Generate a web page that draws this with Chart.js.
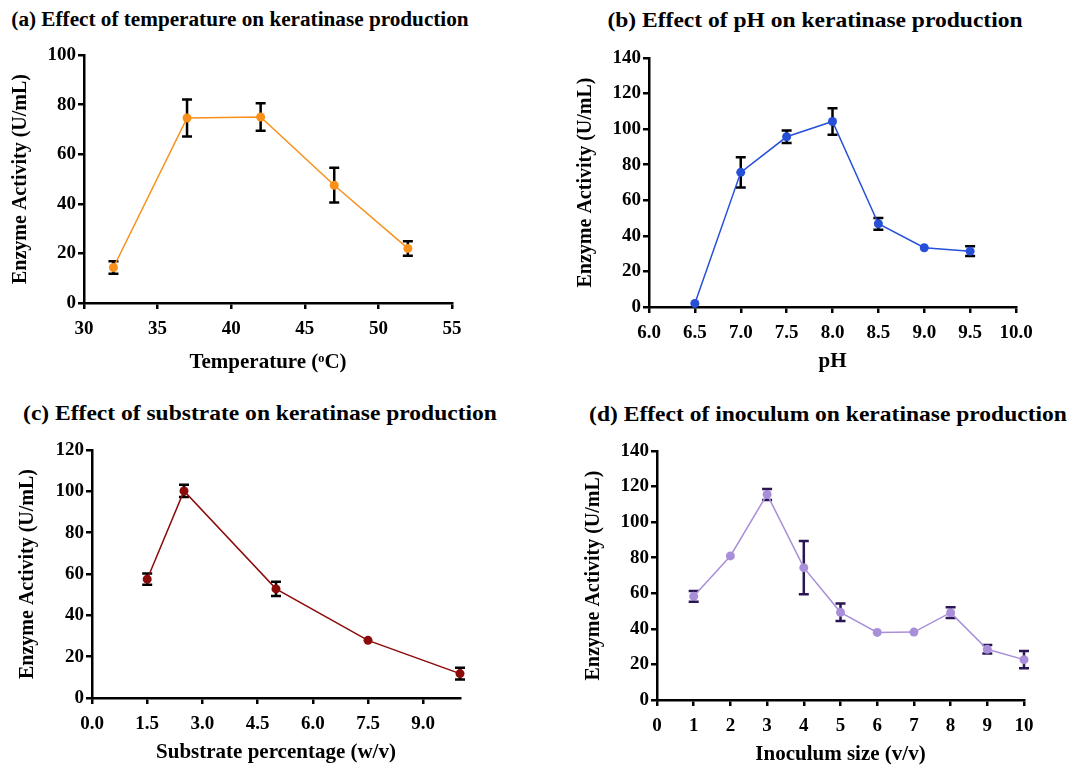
<!DOCTYPE html>
<html>
<head>
<meta charset="utf-8">
<script src="https://cdn.jsdelivr.net/npm/chart.js@4/dist/chart.umd.min.js"></script>
<style>
    body { margin: 0; background: #fff; width: 1077px; height: 767px; overflow: hidden; position: relative; }
    canvas { position: absolute; }
    .ptitle {
        position: absolute;
        width: 600px;
        text-align: center;
        font: bold 20px 'Liberation Serif', 'Times New Roman', serif;
        line-height: 24px;
        color: #000;
        white-space: nowrap;
        transform: scaleX(1.06);
    }
    .ptitle.wide { font-size: 21px; transform: scaleX(1.12); }
</style>
</head>
<body>
<div class="ptitle" style="left:-60px;top:7px">(a) Effect of temperature on keratinase production</div>
<div class="ptitle wide" style="left:515px;top:8px">(b) Effect of pH on keratinase production</div>
<div class="ptitle wide" style="left:-40px;top:401px">(c) Effect of substrate on keratinase production</div>
<div class="ptitle wide" style="left:528px;top:402px">(d) Effect of inoculum on keratinase production</div>
<canvas id="chartA" width="480" height="350" style="left:0px;top:30px"></canvas>
<canvas id="chartB" width="510" height="350" style="left:560px;top:30px"></canvas>
<canvas id="chartC" width="500" height="342" style="left:0px;top:425px"></canvas>
<canvas id="chartD" width="507" height="342" style="left:570px;top:425px"></canvas>
<script>
// (a) temperature
const tempX = [32, 37, 42, 47, 52]
const tempY = [14.3, 74.6, 75, 47.5, 22]
const tempErr = [2.5, 7.5, 5.5, 7, 2.9]

// (b) pH
const phX = [6.5, 7.0, 7.5, 8.0, 8.5, 9.0, 9.5]
const phY = [2, 75.7, 95.7, 104.3, 46.8, 33.3, 31.4]
const phErr = [0, 8.5, 3.5, 7.5, 3.3, 0, 2.7]

// (c) substrate
const subX = [1.5, 2.5, 5, 7.5, 10]
const subY = [57.5, 100.2, 52.8, 27.9, 11.8]
const subErr = [2.7, 3, 3.5, 0, 2.8]

// (d) inoculum
const inoX = [1, 2, 3, 4, 5, 6, 7, 8, 9, 10]
const inoY = [58.3, 81, 115.6, 74.4, 49.3, 38, 38.2, 49.1, 28.5, 22.7]
const inoErr = [3, 0, 3.1, 15, 4.9, 0, 0, 3, 2.4, 4.8]

const FONT = "'Liberation Serif', 'Times New Roman', serif"

// draws the SD bars under the points
const errorBars = {
    id: 'errorBars',
    beforeDatasetsDraw(chart) {
        const ctx = chart.ctx
        const y = chart.scales.y
        chart.data.datasets.forEach((ds, i) => {
            if (!ds.errors) return
            const meta = chart.getDatasetMeta(i)
            ctx.save()
            ctx.strokeStyle = ds.errorColor
            ctx.lineWidth = 2.5
            meta.data.forEach((pt, j) => {
                const e = ds.errors[j]
                if (!e) return
                const v = ds.data[j].y
                const top = y.getPixelForValue(v + e)
                const bot = y.getPixelForValue(v - e)
                ctx.beginPath()
                ctx.moveTo(pt.x, top)
                ctx.lineTo(pt.x, bot)
                ctx.moveTo(pt.x - 5, top)
                ctx.lineTo(pt.x + 5, top)
                ctx.moveTo(pt.x - 5, bot)
                ctx.lineTo(pt.x + 5, bot)
                ctx.stroke()
            })
            ctx.restore()
        })
    }
}

function printPanel(id, p) {
    const data = {
        datasets: [{
            data: p.xs.map((x, i) => ({ x: x, y: p.ys[i] })),
            errors: p.errs,
            errorColor: p.errColor,
            borderColor: p.color,
            backgroundColor: p.color,
            pointBackgroundColor: p.color,
            pointBorderWidth: 0,
            pointRadius: 4.5,
            borderWidth: 1.5,
            tension: 0,
            clip: false
        }]
    }

    const axisTicks = {
        display: true,
        drawOnChartArea: false,
        drawTicks: true,
        tickLength: 6,
        color: '#000',
        lineWidth: 2.5
    }

    const options = {
        responsive: false,
        animation: false,
        layout: { padding: { left: 0, right: p.padRight, top: p.padTop, bottom: p.padBottom } },
        plugins: {
            legend: { display: false },
            tooltip: { enabled: false },
            title: { display: false }
        },
        scales: {
            x: {
                type: 'linear',
                min: p.xMin,
                max: p.xMax,
                grid: axisTicks,
                border: { display: true, color: '#000', width: 2.5 },
                ticks: {
                    stepSize: p.xStep,
                    includeBounds: false,
                    color: '#000',
                    padding: 9,
                    maxRotation: 0,
                    font: { family: FONT, size: 19, weight: 'bold' },
                    callback: v => p.xDec ? v.toFixed(p.xDec) : v
                },
                title: {
                    display: true,
                    text: p.xLabel,
                    color: '#000',
                    font: { family: FONT, size: 21, weight: 'bold' },
                    padding: { top: 0, bottom: 0 }
                },
                afterFit: s => { s.height = p.xH }
            },
            y: {
                min: 0,
                max: p.yMax,
                grid: axisTicks,
                border: { display: true, color: '#000', width: 2.5 },
                ticks: {
                    stepSize: 20,
                    color: '#000',
                    padding: 2,
                    font: { family: FONT, size: 19, weight: 'bold' }
                },
                title: {
                    display: true,
                    text: 'Enzyme Activity (U/mL)',
                    color: '#000',
                    font: { family: FONT, size: 20, weight: 'bold' },
                    padding: { top: p.yTitlePad, bottom: 0 }
                },
                afterFit: s => { s.width = p.yW }
            }
        }
    }

    new Chart(id, { type: 'line', data, options, plugins: [errorBars] })
}

printPanel('chartA', {
    xs: tempX, ys: tempY, errs: tempErr,
    color: '#F8901A', errColor: '#000',
    xMin: 30, xMax: 55, xStep: 5, xDec: 0, yMax: 100,
    xLabel: 'Temperature (\u1D52C)',
    padTop: 25, padRight: 28, padBottom: 5,
    xH: 72, yW: 84, yTitlePad: 9
})

printPanel('chartB', {
    xs: phX, ys: phY, errs: phErr,
    color: '#2650D8', errColor: '#000',
    xMin: 6, xMax: 10, xStep: 0.5, xDec: 1, yMax: 140,
    xLabel: 'pH',
    padTop: 28, padRight: 54, padBottom: 6,
    xH: 67, yW: 89, yTitlePad: 14
})

printPanel('chartC', {
    xs: subX, ys: subY, errs: subErr,
    color: '#8B0A0A', errColor: '#000',
    xMin: 0, xMax: 10, xStep: 1.5, xDec: 1, yMax: 120,
    xLabel: 'Substrate percentage (w/v)',
    padTop: 25, padRight: 40, padBottom: 2,
    xH: 67, yW: 92, yTitlePad: 16
})

printPanel('chartD', {
    xs: inoX, ys: inoY, errs: inoErr,
    color: '#A98FDA', errColor: '#2B1653',
    xMin: 0, xMax: 10, xStep: 1, xDec: 0, yMax: 140,
    xLabel: 'Inoculum size (v/v)',
    padTop: 26, padRight: 53, padBottom: 0,
    xH: 67, yW: 87, yTitlePad: 12
})
</script>
</body>
</html>
